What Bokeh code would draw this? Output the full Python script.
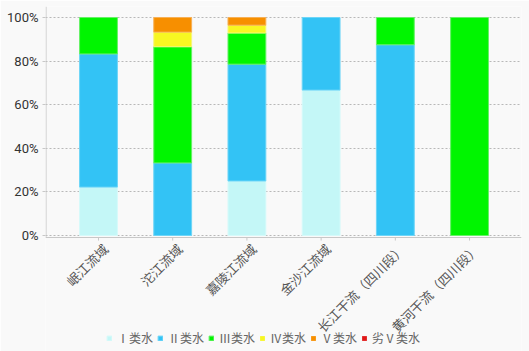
import math
from bokeh.plotting import figure
from bokeh.models import Range1d, FixedTicker, Legend, LegendItem, ColumnDataSource
from bokeh.core.properties import value
from bokeh.embed import file_html
from bokeh.resources import INLINE

categories = ["岷江流域", "沱江流域", "嘉陵江流域", "金沙江流域", "长江干流（四川段）", "黄河干流（四川段）"]
series_names = ["Ⅰ类水", "Ⅱ类水", "Ⅲ类水", "Ⅳ类水", "Ⅴ类水", "劣Ⅴ类水"]
class_I = [22.2, 0.0, 25.0, 66.7, 0.0, 0.0]
class_II = [61.1, 33.3, 53.6, 33.3, 87.5, 0.0]
class_III = [16.7, 53.3, 14.3, 0.0, 12.5, 100.0]
class_IV = [0.0, 6.7, 3.6, 0.0, 0.0, 0.0]
class_V = [0.0, 6.7, 3.5, 0.0, 0.0, 0.0]
class_worse_V = [0.0, 0.0, 0.0, 0.0, 0.0, 0.0]
y_ticks = [0, 20, 40, 60, 80, 100]

colors = ["#c4f7f7", "#33c3f5", "#00f500", "#f7f722", "#f78f00", "#e01818"]
line_colors = ["#d6fafa", "#6dd5f7", "#66f066", "#f7f777", "#f7b055", "#ee6666"]
axis_color = "#c8c8c8"

x = list(range(len(categories)))
series = [class_I, class_II, class_III, class_IV, class_V, class_worse_V]
keys = ["c1", "c2", "c3", "c4", "c5", "c6"]
data = dict(x=x)
for k, s in zip(keys, series):
    data[k] = s
    data["a" + k] = [1.0 if v > 0 else 0.0 for v in s]
source = ColumnDataSource(data)

X0, X1 = -0.714, 5.70
Y0, Y1 = -53.21, 105.05
AXIS_Y = -0.92

p = figure(width=529, height=351, output_backend="svg", toolbar_location=None,
           x_range=Range1d(X0, X1), y_range=Range1d(Y0, Y1), x_axis_location=None,
           min_border_left=45, min_border_right=8, min_border_top=6, min_border_bottom=0)
p.background_fill_color = "#f9f9f9"
p.border_fill_color = "#f9f9f9"
p.outline_line_color = None

rends = p.vbar_stack(keys, x="x", width=0.51, source=source, color=colors,
                     line_color=line_colors, line_width=1,
                     line_alpha=["a" + k for k in keys])

p.xgrid.visible = False
p.ygrid.grid_line_color = "#b8b8b8"
p.ygrid.grid_line_dash = "2 2"
p.ygrid.ticker = FixedTicker(ticks=y_ticks)

p.yaxis.ticker = FixedTicker(ticks=y_ticks)
p.yaxis.major_label_overrides = {t: f"{t}%" for t in y_ticks}
p.yaxis.major_label_text_font = "Roboto"
p.yaxis.major_label_text_font_size = "13px"
p.yaxis.major_label_text_color = "#333333"
p.yaxis.axis_line_color = None
p.yaxis.major_tick_line_color = axis_color
p.yaxis.major_tick_out = 3
p.yaxis.major_tick_in = 0
p.yaxis.minor_tick_line_color = None
p.yaxis.major_label_standoff = 4

# bottom axis line, left axis line, ticks
p.segment(x0=[X0], y0=[AXIS_Y], x1=[X1], y1=[AXIS_Y], line_color=axis_color, line_width=1)
p.segment(x0=[X0 + 0.007], y0=[AXIS_Y], x1=[X0 + 0.007], y1=[Y1], line_color=axis_color, line_width=1)
p.segment(x0=x, y0=[AXIS_Y] * len(x), x1=x, y1=[AXIS_Y - 1.4] * len(x),
          line_color=axis_color, line_width=1)

# rotated category labels
p.text(x=x, y=[AXIS_Y] * len(x), text=categories, angle=math.pi / 4,
       text_align="right", text_baseline="middle", x_offset=7, y_offset=9,
       text_font=value("Noto Sans CJK SC"), text_font_size="13px", text_color="#555555")

legend = Legend(items=[LegendItem(label=n, renderers=[r]) for n, r in zip(series_names, rends)],
                orientation="horizontal", location=(61, 5))
legend.glyph_width = 6
legend.glyph_height = 6
legend.label_text_font = "Noto Sans CJK SC"
legend.label_text_font_size = "12px"
legend.label_text_color = "#666666"
legend.label_standoff = 5
legend.spacing = 4
legend.padding = 3
legend.margin = 0
legend.background_fill_alpha = 0
legend.border_line_color = None
p.add_layout(legend, "center")

open("out.html", "w").write(file_html(p, INLINE))
